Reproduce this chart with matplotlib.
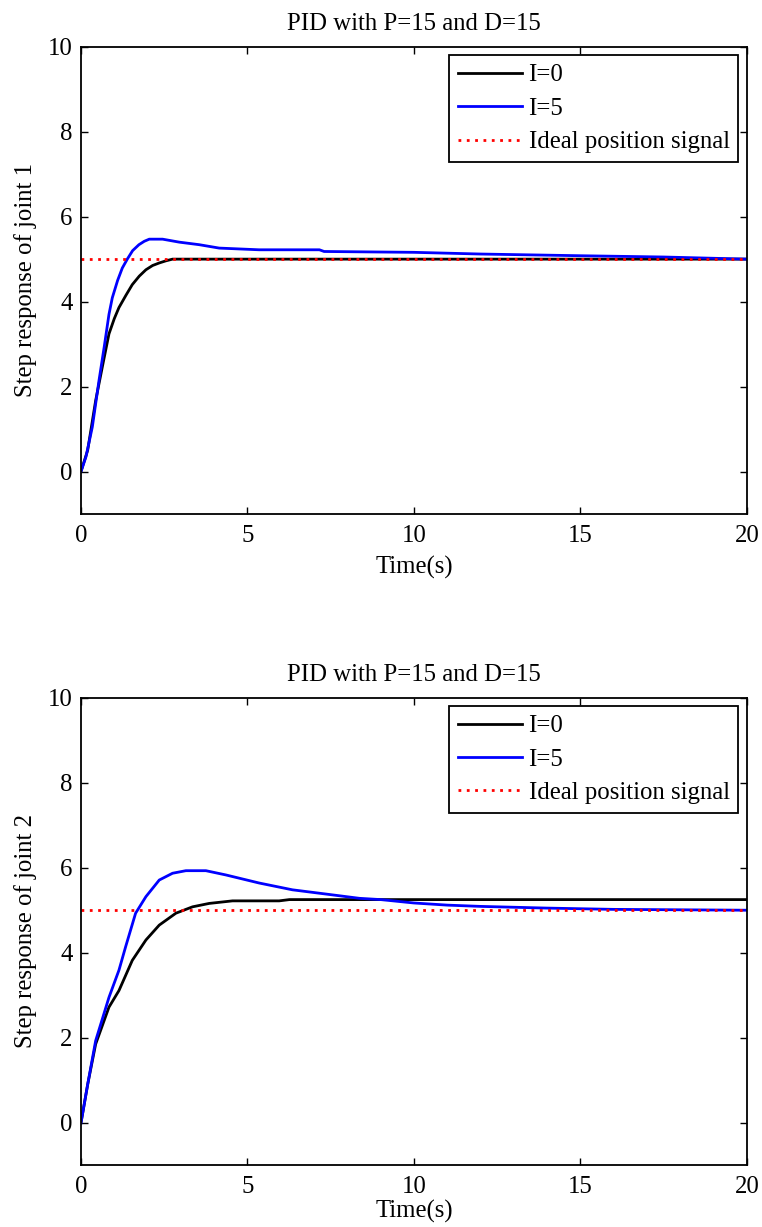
import matplotlib
matplotlib.use("Agg")
import matplotlib.pyplot as plt

# joint 1 step response
t1_i0 = [0, 0.2, 0.44, 0.65, 0.84, 1.0, 1.14, 1.35, 1.54, 1.75, 1.95, 2.15, 2.35, 2.55, 2.75, 3.0, 20]
y1_i0 = [0, 0.5, 1.67, 2.5, 3.24, 3.6, 3.86, 4.15, 4.40, 4.6, 4.75, 4.85, 4.91, 4.96, 5.0, 5.0, 5.0]
t1_i5 = [0, 0.15, 0.34, 0.54, 0.7, 0.84, 0.94, 1.1, 1.24, 1.39, 1.55, 1.74, 1.9, 2.05, 2.45, 2.95,
         3.55, 4.15, 5.35, 7.16, 7.3, 10.0, 12.0, 15.0, 17.5, 20]
y1_i5 = [0, 0.35, 1.05, 2.14, 2.95, 3.70, 4.09, 4.5, 4.79, 5.0, 5.2, 5.34, 5.42, 5.47, 5.47, 5.40,
         5.34, 5.26, 5.22, 5.22, 5.18, 5.16, 5.12, 5.08, 5.05, 5.0]

# joint 2 step response
t2_i0 = [0, 0.2, 0.44, 0.84, 1.14, 1.54, 1.95, 2.35, 2.85, 3.35, 3.85, 4.55, 5.95, 6.26, 20]
y2_i0 = [0, 0.9, 1.85, 2.72, 3.11, 3.82, 4.30, 4.65, 4.93, 5.08, 5.16, 5.22, 5.22, 5.25, 5.25]
t2_i5 = [0, 0.2, 0.44, 0.84, 1.14, 1.34, 1.64, 1.95, 2.35, 2.75, 3.15, 3.75, 4.35, 5.35, 6.35,
         7.36, 8.36, 9.0, 10.0, 11.0, 12.0, 14.0, 16.0, 20]
y2_i5 = [0, 0.9, 1.93, 2.95, 3.59, 4.14, 4.93, 5.32, 5.71, 5.87, 5.93, 5.93, 5.83, 5.64, 5.48,
         5.38, 5.28, 5.25, 5.17, 5.12, 5.09, 5.05, 5.02, 5.0]

ideal_t = [0, 20]
ideal_y = [5, 5]

titles = ["PID with P=15 and D=15", "PID with P=15 and D=15"]
ylabels = ["Step response of joint 1", "Step response of joint 2"]

plt.rcParams['font.family'] = ['Liberation Serif', 'DejaVu Serif']
FS = 17.8

fig = plt.figure(figsize=(7.62, 12.27), dpi=100)
ax1 = fig.add_axes([0.1063, 0.5811, 0.8740, 0.3808])
ax2 = fig.add_axes([0.1063, 0.0503, 0.8740, 0.3811])

data = [(t1_i0, y1_i0, t1_i5, y1_i5), (t2_i0, y2_i0, t2_i5, y2_i5)]
for ax, (ta, ya, tb, yb), ttl, yl, lp in zip([ax1, ax2], data, titles, ylabels, [6, 1]):
    ax.plot(ta, ya, color='black', lw=2, label='I=0')
    ax.plot(tb, yb, color='blue', lw=2, label='I=5')
    ax.plot(ideal_t, ideal_y, color='red', lw=2, ls=(0, (1, 2)), label='Ideal position signal')
    ax.set_xlim(0, 20)
    ax.set_ylim(-1, 10)
    ax.set_xticks([0, 5, 10, 15, 20])
    ax.set_yticks([0, 2, 4, 6, 8, 10])
    ax.tick_params(direction='in', top=True, right=True, labelsize=FS, length=5, width=1)
    ax.tick_params(axis='x', pad=8)
    ax.tick_params(axis='y', pad=6)
    for s in ax.spines.values():
        s.set_linewidth(1.3)
    ax.set_title(ttl, fontsize=FS, pad=12)
    ax.set_xlabel('Time(s)', fontsize=FS, labelpad=lp)
    ax.set_ylabel(yl, fontsize=FS, labelpad=8)
    leg = ax.legend(loc='upper right', fontsize=FS, frameon=True, fancybox=False,
                    edgecolor='black', framealpha=1, borderpad=0.35, labelspacing=0.45,
                    handlelength=2.6, handletextpad=0.25, borderaxespad=0.35)
    leg.get_frame().set_linewidth(1.3)

fig.savefig('out.png', dpi=100)
